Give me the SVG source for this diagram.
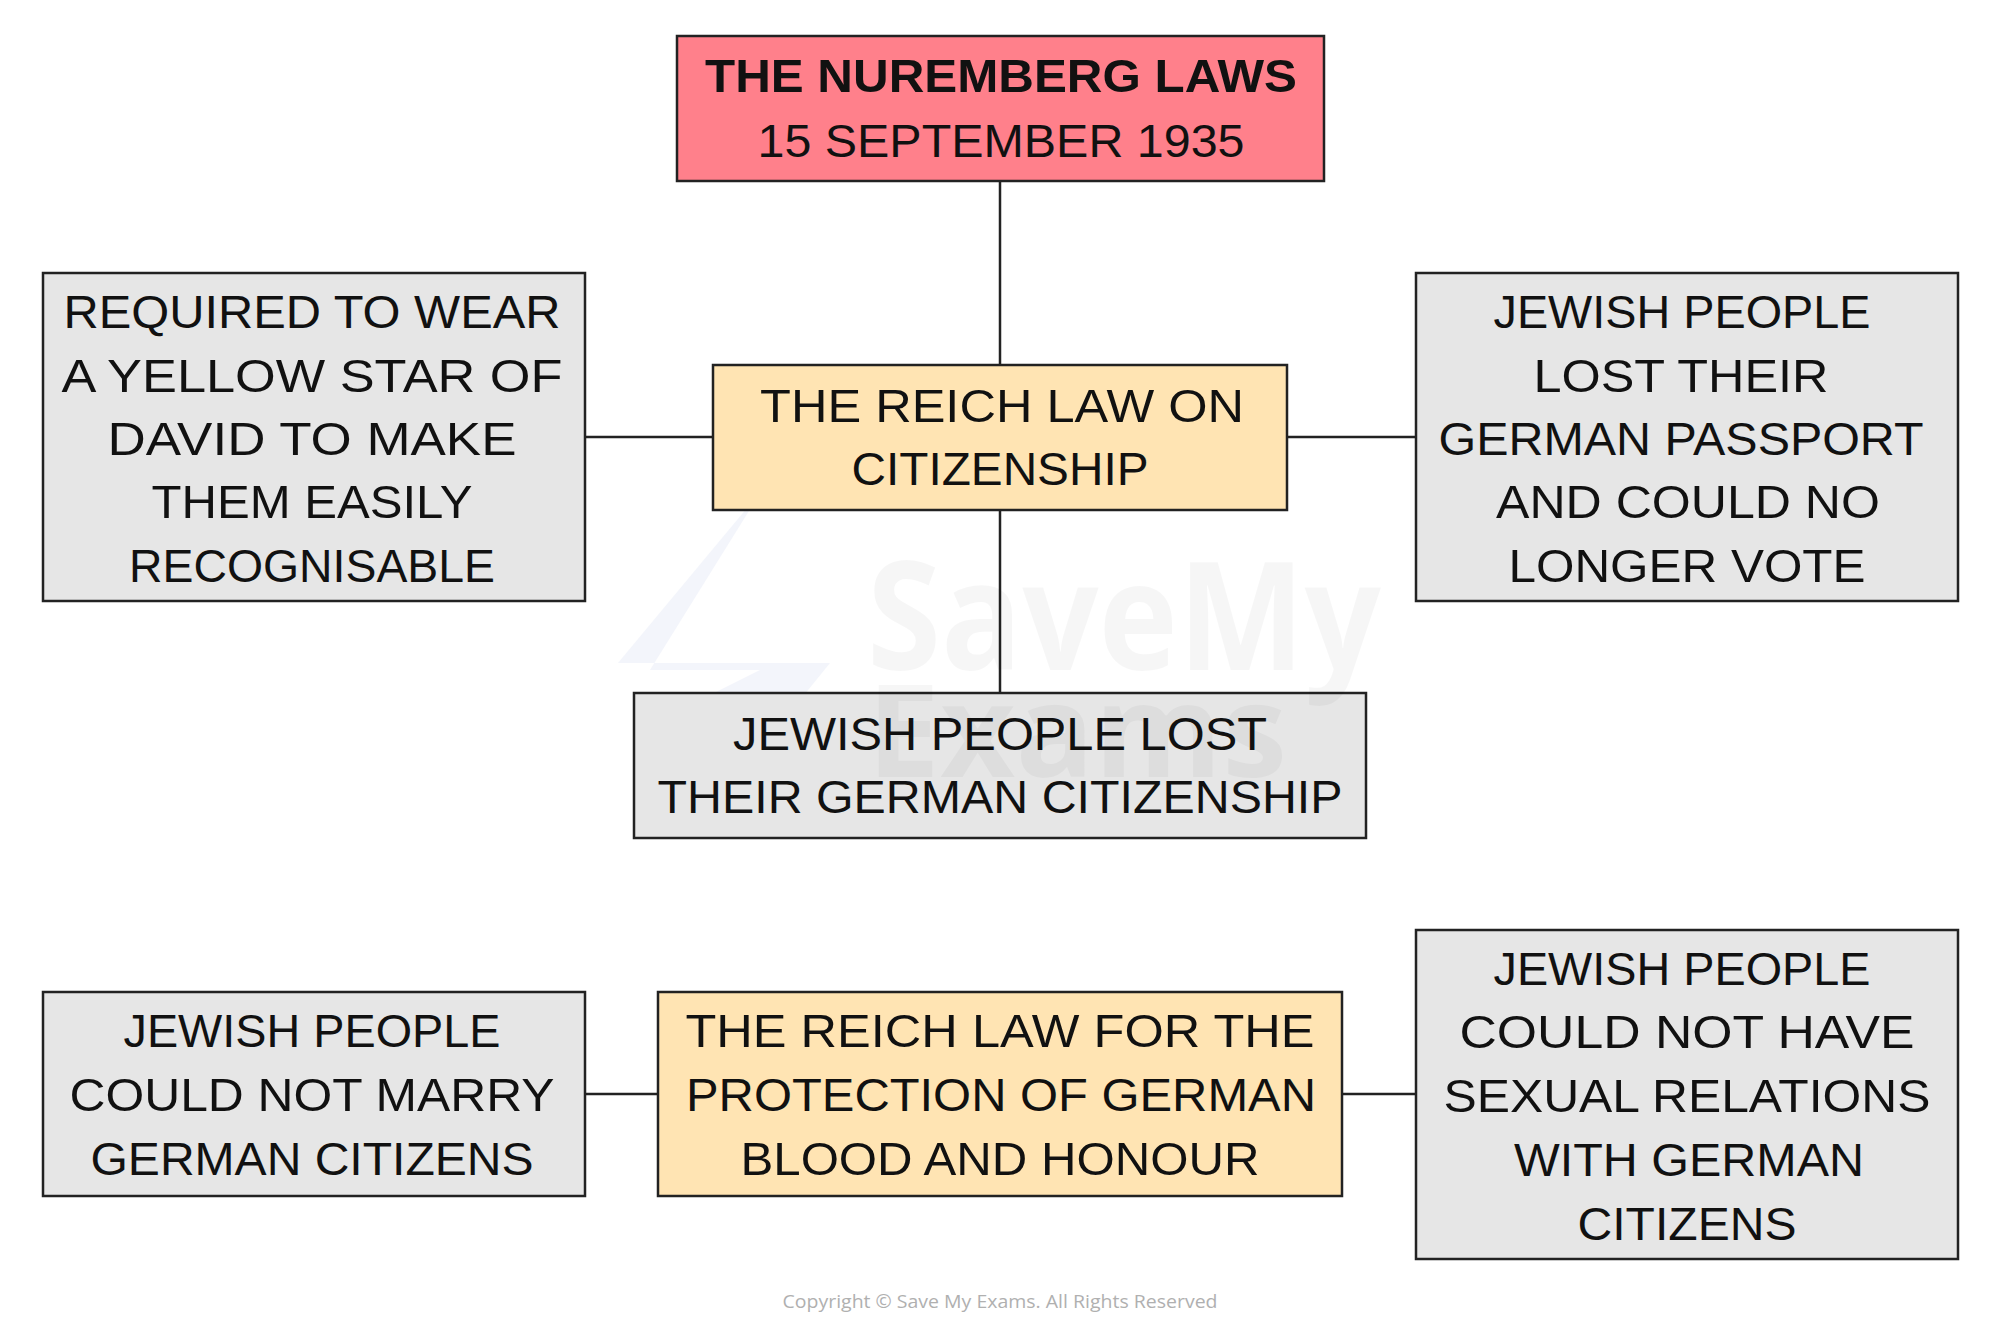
<svg xmlns="http://www.w3.org/2000/svg" width="2000" height="1327" viewBox="0 0 2000 1327">
<style>
.box{stroke:#222;stroke-width:2.5}
.red{fill:#ff808b}
.amber{fill:#ffe4b3}
.grey{fill:#e6e6e6}
.t{font-family:"Liberation Sans Narrow","Liberation Sans",Arial,sans-serif;font-size:47px;fill:#111;text-anchor:middle}
.tb{font-weight:bold}
.wm{font-family:"Open Sans","Liberation Sans",sans-serif;font-weight:bold;fill:#000;fill-opacity:0.035}
.cp{font-family:"Open Sans","Liberation Sans",sans-serif;font-size:19px;fill:#b0b0b0;text-anchor:middle}
</style>
<rect width="2000" height="1327" fill="#ffffff"/>
<polygon points="762,490 618,663 830,663 688,838 700,700 760,670 650,670" fill="#e8ebf8" fill-opacity="0.5"/>
<g id="connectors" stroke="#222" stroke-width="2.5" fill="none">
<line x1="1000" y1="181" x2="1000" y2="365"/>
<line x1="1000" y1="510" x2="1000" y2="693"/>
<line x1="585" y1="437" x2="713" y2="437"/>
<line x1="1287" y1="437" x2="1416" y2="437"/>
<line x1="585" y1="1094" x2="658" y2="1094"/>
<line x1="1342" y1="1094" x2="1416" y2="1094"/>
</g>
<g id="title">
<rect class="box red" x="677" y="36" width="647" height="145"/>
<text class="t tb" x="1001" y="92" textLength="592" lengthAdjust="spacingAndGlyphs">THE NUREMBERG LAWS</text>
<text class="t" x="1001" y="157" textLength="487" lengthAdjust="spacingAndGlyphs">15 SEPTEMBER 1935</text>
</g>
<g id="citizenship-law">
<rect class="box amber" x="713" y="365" width="574" height="145"/>
<text class="t" x="1002" y="422" textLength="484" lengthAdjust="spacingAndGlyphs">THE REICH LAW ON</text>
<text class="t" x="1000" y="485" textLength="297" lengthAdjust="spacingAndGlyphs">CITIZENSHIP</text>
</g>
<g id="yellow-star">
<rect class="box grey" x="43" y="273" width="542" height="328"/>
<text class="t" x="312" y="328" textLength="497" lengthAdjust="spacingAndGlyphs">REQUIRED TO WEAR</text>
<text class="t" x="312" y="392" textLength="501" lengthAdjust="spacingAndGlyphs">A YELLOW STAR OF</text>
<text class="t" x="312" y="455" textLength="409" lengthAdjust="spacingAndGlyphs">DAVID TO MAKE</text>
<text class="t" x="312" y="518" textLength="321" lengthAdjust="spacingAndGlyphs">THEM EASILY</text>
<text class="t" x="312" y="582" textLength="366" lengthAdjust="spacingAndGlyphs">RECOGNISABLE</text>
</g>
<g id="passport">
<rect class="box grey" x="1416" y="273" width="542" height="328"/>
<text class="t" x="1682" y="328" textLength="377" lengthAdjust="spacingAndGlyphs">JEWISH PEOPLE</text>
<text class="t" x="1681" y="392" textLength="295" lengthAdjust="spacingAndGlyphs">LOST THEIR</text>
<text class="t" x="1681" y="455" textLength="485" lengthAdjust="spacingAndGlyphs">GERMAN PASSPORT</text>
<text class="t" x="1688" y="518" textLength="384" lengthAdjust="spacingAndGlyphs">AND COULD NO</text>
<text class="t" x="1687" y="582" textLength="357" lengthAdjust="spacingAndGlyphs">LONGER VOTE</text>
</g>
<g id="lost-citizenship">
<rect class="box grey" x="634" y="693" width="732" height="145"/>
<text class="t" x="1000" y="750" textLength="534" lengthAdjust="spacingAndGlyphs">JEWISH PEOPLE LOST</text>
<text class="t" x="1000" y="813" textLength="685" lengthAdjust="spacingAndGlyphs">THEIR GERMAN CITIZENSHIP</text>
</g>
<g id="marry">
<rect class="box grey" x="43" y="992" width="542" height="204"/>
<text class="t" x="312" y="1047" textLength="377" lengthAdjust="spacingAndGlyphs">JEWISH PEOPLE</text>
<text class="t" x="312" y="1111" textLength="485" lengthAdjust="spacingAndGlyphs">COULD NOT MARRY</text>
<text class="t" x="312" y="1175" textLength="443" lengthAdjust="spacingAndGlyphs">GERMAN CITIZENS</text>
</g>
<g id="blood-law">
<rect class="box amber" x="658" y="992" width="684" height="204"/>
<text class="t" x="1000" y="1047" textLength="629" lengthAdjust="spacingAndGlyphs">THE REICH LAW FOR THE</text>
<text class="t" x="1001" y="1111" textLength="630" lengthAdjust="spacingAndGlyphs">PROTECTION OF GERMAN</text>
<text class="t" x="1000" y="1175" textLength="519" lengthAdjust="spacingAndGlyphs">BLOOD AND HONOUR</text>
</g>
<g id="relations">
<rect class="box grey" x="1416" y="930" width="542" height="329"/>
<text class="t" x="1682" y="985" textLength="377" lengthAdjust="spacingAndGlyphs">JEWISH PEOPLE</text>
<text class="t" x="1687" y="1048" textLength="455" lengthAdjust="spacingAndGlyphs">COULD NOT HAVE</text>
<text class="t" x="1687" y="1112" textLength="487" lengthAdjust="spacingAndGlyphs">SEXUAL RELATIONS</text>
<text class="t" x="1689" y="1176" textLength="350" lengthAdjust="spacingAndGlyphs">WITH GERMAN</text>
<text class="t" x="1687" y="1240" textLength="219" lengthAdjust="spacingAndGlyphs">CITIZENS</text>
</g>
<text class="wm" x="867" y="670" font-size="150" textLength="514" lengthAdjust="spacingAndGlyphs">SaveMy</text>
<text class="wm" x="867" y="777" font-size="130" textLength="420" lengthAdjust="spacingAndGlyphs">Exams</text>
<text class="cp" x="1000" y="1308" textLength="435" lengthAdjust="spacingAndGlyphs">Copyright © Save My Exams. All Rights Reserved</text>
</svg>
